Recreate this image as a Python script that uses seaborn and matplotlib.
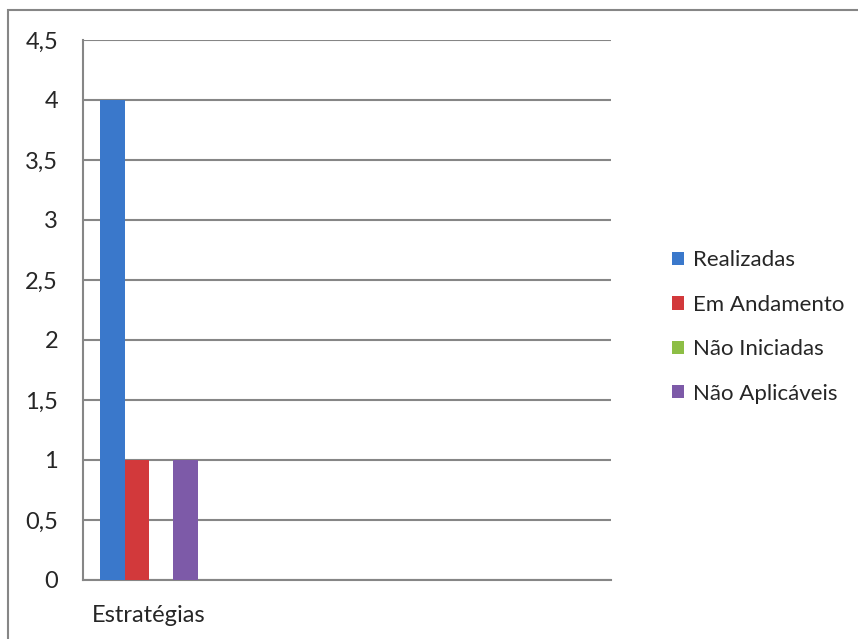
import matplotlib
matplotlib.use('Agg')
import matplotlib.pyplot as plt
import seaborn as sns
import pandas as pd
from matplotlib.patches import Rectangle

# Data
category = ["Estratégias"]
series = ["Realizadas", "Em Andamento", "Não Iniciadas", "Não Aplicáveis"]
values = [4, 1, 0, 1]
colors = ["#3A78CB", "#D2393B", "#8DBE45", "#7D5AA8"]
yticks = [0, 0.5, 1, 1.5, 2, 2.5, 3, 3.5, 4, 4.5]

df = pd.DataFrame({"cat": category * len(series), "serie": series, "valor": values})

sns.set_style("white")
plt.rcParams['font.family'] = ['Lato', 'DejaVu Sans']

fig = plt.figure(figsize=(8.58, 6.39), dpi=100)
ax = fig.add_axes([83 / 858, 1 - 580 / 639, 528 / 858, 540 / 639])

sns.barplot(data=df, x="cat", y="valor", hue="serie", palette=colors, saturation=1,
            width=0.74, ax=ax, legend=True, zorder=3, linewidth=0)

# 4 category slots, ticks on the slot boundaries
ax.set_xlim(-0.5, 3.5)
ax.set_xticks([-0.5, 0.5, 1.5, 2.5, 3.5])
ax.set_xticklabels([])
ax.set_xticks([0], minor=True)
ax.set_xticklabels(["Estratégias"], minor=True)
ax.tick_params(axis='x', which='minor', length=0, pad=18, labelsize=17)
ax.tick_params(axis='x', which='major', length=6, width=1.5, color="#868686", direction='out')
ax.tick_params(axis='y', length=6, width=1.5, color="#868686", direction='out', labelsize=17, pad=12)

ax.set_ylim(0, 4.5)
ax.set_yticks(yticks)
ax.set_yticklabels([("%g" % t).replace(".", ",") for t in yticks])
ax.yaxis.grid(True, color="#868686", linewidth=1.5, zorder=0)
ax.set_axisbelow(True)

for s in ["top", "right"]:
    ax.spines[s].set_visible(False)
for s in ["left", "bottom"]:
    ax.spines[s].set_color("#868686")
    ax.spines[s].set_linewidth(1.5)

ax.set_xlabel("")
ax.set_ylabel("")

handles, labels = ax.get_legend_handles_labels()
ax.get_legend().remove()
fig.legend(handles, labels, loc="center left", bbox_to_anchor=(672 / 858, 1 - 327 / 639),
           frameon=False, fontsize=16, handlelength=0.55, handleheight=0.55,
           handletextpad=0.4, labelspacing=1.1, borderaxespad=0, borderpad=0)

# outer chart border (right and bottom edges fall outside the image)
fig.patches.append(Rectangle((8 / 858, -0.05), 1.0, 1 - 10 / 639 + 0.05,
                             transform=fig.transFigure, fill=False,
                             edgecolor="#868686", linewidth=1.5))

fig.savefig("out.png", dpi=100)
